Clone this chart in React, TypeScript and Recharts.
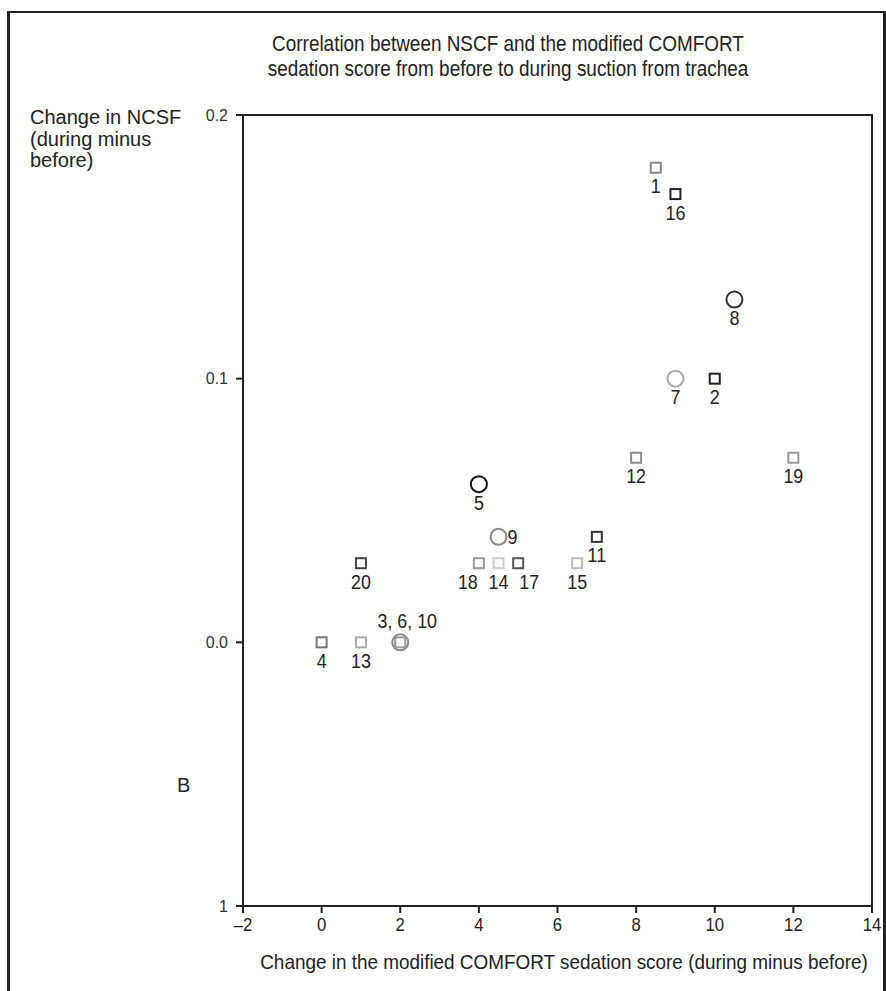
import { ScatterChart, Scatter, XAxis, YAxis, ReferenceArea } from 'recharts';

// patient numbers shown next to each marker
const patientIds = ['1', '16', '8', '7', '2', '12', '19', '5', '9', '11', '20', '18', '14', '17', '15', '4', '13', '3, 6, 10'];
// change in the modified COMFORT sedation score (during minus before)
const comfortChange = [8.5, 9, 10.5, 9, 10, 8, 12, 4, 4.5, 7, 1, 4, 4.5, 5, 6.5, 0, 1, 2];
// change in NCSF (during minus before)
const ncsfChange = [0.18, 0.17, 0.13, 0.1, 0.1, 0.07, 0.07, 0.06, 0.04, 0.04, 0.03, 0.03, 0.03, 0.03, 0.03, 0, 0, 0];
const markerKind = ['square', 'square', 'circle', 'circle', 'square', 'square', 'square', 'circle', 'circle', 'square', 'square', 'square', 'square', 'square', 'square', 'square', 'square', 'both'];
const markerColor = ['#8a8a8a', '#222', '#333', '#aaa', '#222', '#8a8a8a', '#999', '#111', '#888', '#333', '#444', '#999', '#ccc', '#555', '#bbb', '#777', '#aaa', '#888'];

const xTicks = [-2, 0, 2, 4, 6, 8, 10, 12, 14];
const yTicks = [-0.1, 0, 0.1, 0.2];

const points = patientIds.map((id, i) => ({
  id,
  x: comfortChange[i],
  y: ncsfChange[i],
  kind: markerKind[i],
  color: markerColor[i],
}));

const font = "'Liberation Sans', Arial, sans-serif";

// condensed-looking text: regular sans squeezed horizontally
function NarrowText({ x, y, size, squeeze = 0.85, anchor = 'middle', children }: any) {
  return (
    <g transform={`translate(${x},${y}) scale(${squeeze},1)`}>
      <text x={0} y={0} textAnchor={anchor} dominantBaseline="central" fontSize={size} fill="#222" fontFamily={font}>
        {children}
      </text>
    </g>
  );
}

function PointMark(props: any) {
  const { cx, cy, payload } = props;
  if (cx == null || cy == null) return null;
  const c = payload.color;
  let lx = cx;
  let ly = cy + 18;
  let anchor = 'middle';
  if (payload.id === '9') {
    lx = cx + 9;
    ly = cy;
    anchor = 'start';
  } else if (payload.id === '3, 6, 10') {
    lx = cx + 7;
    ly = cy - 22;
  } else if (payload.id === '18') {
    lx = cx - 11;
  } else if (payload.id === '17') {
    lx = cx + 11;
  }
  return (
    <g>
      {(payload.kind === 'circle' || payload.kind === 'both') && (
        <circle cx={cx} cy={cy} r={8} fill="none" stroke={c} strokeWidth={2} />
      )}
      {(payload.kind === 'square' || payload.kind === 'both') && (
        <rect x={cx - 5} y={cy - 5} width={10} height={10} fill="none" stroke={payload.kind === 'both' ? '#999' : c} strokeWidth={2} />
      )}
      <NarrowText x={lx} y={ly} size={21} anchor={anchor}>
        {payload.id}
      </NarrowText>
    </g>
  );
}

function XTick(props: any) {
  const { x, payload } = props;
  const v = payload.value;
  return (
    <NarrowText x={x} y={925} size={19} squeeze={0.88}>
      {v < 0 ? '\u2013' + Math.abs(v) : String(v)}
    </NarrowText>
  );
}

function YTick(props: any) {
  const { y, payload } = props;
  const v = payload.value;
  return (
    <text x={228} y={y} textAnchor="end" dominantBaseline="central" fontSize={16} fill="#333" fontFamily={font}>
      {v < -0.05 ? '1' : v.toFixed(1)}
    </text>
  );
}

export default function App() {
  return (
    <div style={{ position: 'absolute', left: 0, top: 0, width: 886, height: 991, background: '#fff', overflow: 'hidden' }}>
      <div
        style={{
          position: 'absolute',
          left: 7,
          top: 11,
          width: 873,
          height: 1000,
          borderTop: '2px solid #222',
          borderLeft: '3px solid #222',
          borderRight: '3px solid #222',
        }}
      />
      <div
        style={{
          position: 'absolute',
          left: 0,
          width: 1016,
          top: 31,
          textAlign: 'center',
          fontFamily: font,
          fontSize: 22,
          lineHeight: '25px',
          color: '#222',
          transform: 'scaleX(0.86)',
          transformOrigin: '508px 0',
        }}
      >
        Correlation between NSCF and the modified COMFORT
        <br />
        sedation score from before to during suction from trachea
      </div>
      <div
        style={{
          position: 'absolute',
          left: 30,
          top: 107,
          fontFamily: font,
          fontSize: 20,
          lineHeight: '21.5px',
          color: '#222',
        }}
      >
        Change in NCSF
        <br />
        (during minus
        <br />
        before)
      </div>
      <div style={{ position: 'absolute', left: 177, top: 774, fontFamily: font, fontSize: 20, color: '#222' }}>B</div>
      <div
        style={{
          position: 'absolute',
          left: 64,
          width: 1000,
          top: 950,
          textAlign: 'center',
          fontFamily: font,
          fontSize: 21,
          color: '#222',
          whiteSpace: 'nowrap',
          transform: 'scaleX(0.9)',
          transformOrigin: '500px 0',
        }}
      >
        Change in the modified COMFORT sedation score (during minus before)
      </div>
      <div style={{ position: 'absolute', left: 0, top: 0 }}>
        <ScatterChart width={886} height={991} margin={{ top: 115, right: 14, bottom: 55, left: 183 }}>
          <XAxis
            type="number"
            dataKey="x"
            domain={[-2, 14]}
            ticks={xTicks}
            height={30}
            tickSize={7}
            stroke="#222"
            strokeWidth={2}
            tick={<XTick />}
            allowDataOverflow
          />
          <YAxis
            type="number"
            dataKey="y"
            domain={[-0.1, 0.2]}
            ticks={yTicks}
            width={60}
            tickSize={7}
            stroke="#222"
            strokeWidth={2}
            tick={<YTick />}
            allowDataOverflow
          />
          <ReferenceArea x1={-2} x2={14} y1={-0.1} y2={0.2} fill="none" stroke="#222" strokeWidth={2} ifOverflow="visible" />
          <Scatter data={points} shape={<PointMark />} isAnimationActive={false} />
        </ScatterChart>
      </div>
    </div>
  );
}
